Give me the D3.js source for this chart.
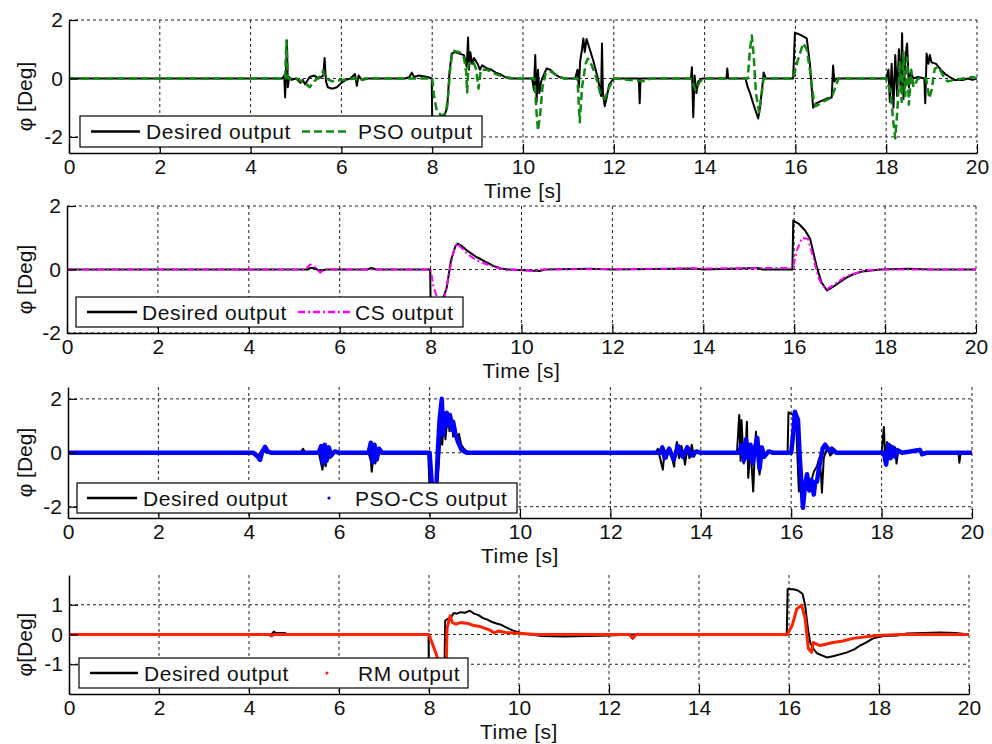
<!DOCTYPE html>
<html>
<head>
<meta charset="utf-8">
<script src="https://cdn.jsdelivr.net/npm/d3@7"></script>
<style>
  body { margin: 0; background: #fff; }
  svg { display: block; font-family: "Liberation Sans", Arial, sans-serif; }
</style>
</head>
<body>
<svg id="chart" width="992" height="744"></svg>
<script>
// shared time axis
var timeTicks = [0, 2, 4, 6, 8, 10, 12, 14, 16, 18, 20];
var yTicksWide = [-2, 0, 2];
var yTicksNarrow = [-1, 0, 1];

// [time s, roll deg] traces
var psoDesired = [[0,0],[4.7,0],[4.74,0.1],[4.76,-0.65],[4.78,0.2],[4.8,1.3],[4.82,-0.3],[4.85,0.05],[4.9,-0.05],[5.0,0],[5.1,-0.15],[5.15,-0.05],[5.2,-0.2],[5.3,0.05],[5.4,0.1],[5.5,0],[5.6,0.1],[5.63,0.7],[5.66,-0.1],[5.7,-0.3],[5.8,-0.35],[5.9,-0.3],[6.0,-0.15],[6.1,-0.05],[6.2,0],[6.3,0.15],[6.34,-0.25],[6.38,0.1],[6.45,-0.05],[6.6,0],[7.4,0],[7.5,0.05],[7.55,0.2],[7.6,0.05],[7.7,0.1],[7.9,0.05],[7.99,0],[8.0,-1.45],[8.1,-1.4],[8.25,-1.35],[8.33,-1.0],[8.38,0.2],[8.43,0.85],[8.5,0.9],[8.6,0.85],[8.7,0.8],[8.76,0.4],[8.79,1.4],[8.81,0.3],[8.84,0.9],[8.88,0.5],[8.92,0.7],[9.0,0.5],[9.05,0.3],[9.1,0.45],[9.2,0.35],[9.3,0.3],[9.4,0.2],[9.5,0.15],[9.6,0.05],[9.7,0],[10.2,0],[10.24,-0.4],[10.27,0.8],[10.3,-0.8],[10.33,0.3],[10.36,-0.5],[10.4,-0.1],[10.45,0.1],[10.52,0.34],[10.6,0.3],[10.7,0.15],[10.8,0.05],[10.9,0],[11.15,0],[11.2,0.3],[11.23,-0.3],[11.26,0.6],[11.3,1.0],[11.33,1.37],[11.36,0.9],[11.4,1.35],[11.45,1.1],[11.55,0.6],[11.65,0],[11.72,-0.6],[11.74,1.2],[11.76,-0.5],[11.8,-0.95],[11.85,-0.6],[11.9,-0.2],[12.0,0],[12.55,0],[12.57,-0.85],[12.59,0],[13.7,0],[13.72,0.38],[13.75,-1.33],[13.78,0.1],[13.82,-0.5],[13.86,-0.1],[13.95,0],[14.48,0],[14.5,0.34],[14.52,0],[14.9,0],[14.95,-0.3],[15.0,-0.5],[15.1,-1.0],[15.18,-1.37],[15.22,-1.0],[15.27,-0.3],[15.3,0.2],[15.35,0],[15.95,0],[15.99,1.57],[16.1,1.5],[16.25,1.37],[16.32,0.5],[16.39,-1.0],[16.45,-0.85],[16.6,-0.75],[16.7,-0.68],[16.8,-0.65],[16.83,0.44],[16.86,-0.1],[16.9,0],[18.0,0],[18.05,0.3],[18.08,-0.8],[18.12,0.5],[18.16,-1.0],[18.2,0.8],[18.24,-0.6],[18.28,1.0],[18.32,-0.4],[18.35,1.55],[18.38,-0.7],[18.42,0.7],[18.46,1.2],[18.5,-0.3],[18.54,0.2],[18.6,0],[18.7,0.05],[18.84,0],[18.86,-0.85],[18.89,0.85],[18.93,0.5],[18.96,0.8],[19.0,0.55],[19.1,0.5],[19.2,0.3],[19.3,0.15],[19.4,0.05],[19.5,-0.05],[19.7,-0.05],[19.8,0],[19.9,-0.05],[20,0]];
var psoOutput = [[0,0],[4.76,0],[4.79,1.3],[4.82,0],[5.0,0],[5.2,-0.15],[5.3,-0.3],[5.4,-0.1],[5.55,0.1],[5.6,0.27],[5.65,0],[5.8,-0.1],[6.0,-0.05],[6.3,0],[6.4,-0.1],[6.5,0],[8.0,0],[8.04,-0.6],[8.1,-1.1],[8.2,-1.27],[8.3,-1.2],[8.35,-0.6],[8.4,0.4],[8.45,0.95],[8.6,0.9],[8.7,0.7],[8.75,0.2],[8.77,-0.48],[8.8,0.5],[8.9,0.6],[8.97,0.3],[9.02,-0.35],[9.07,0.3],[9.2,0.3],[9.4,0.15],[9.6,0.05],[9.8,0],[10.25,0],[10.3,-1.2],[10.33,-1.78],[10.38,-1.2],[10.43,-0.3],[10.5,0.2],[10.6,0.25],[10.75,0.1],[10.9,0],[11.2,0],[11.25,-1.5],[11.3,-0.3],[11.38,0.5],[11.43,0.68],[11.5,0.5],[11.6,0.1],[11.7,-0.5],[11.8,-0.7],[11.9,-0.3],[12.0,0],[12.7,-0.1],[12.8,0],[13.7,0],[13.8,-0.4],[13.9,-0.1],[14.0,0],[14.95,0],[15.0,1.0],[15.04,1.47],[15.08,0.8],[15.13,-0.5],[15.2,-1.16],[15.25,-0.6],[15.3,0],[15.95,0],[16.05,0.6],[16.17,1.2],[16.25,1.0],[16.32,0.3],[16.4,-0.7],[16.45,-0.95],[16.6,-0.8],[16.8,-0.65],[16.88,-0.3],[16.95,0],[18.0,0],[18.1,-0.5],[18.15,-1.4],[18.2,-2.05],[18.25,-1.0],[18.3,0.6],[18.34,-0.8],[18.38,0.9],[18.42,-0.6],[18.46,0.7],[18.5,-0.9],[18.55,0.3],[18.6,-0.3],[18.7,0],[18.88,0],[18.95,-0.68],[19.0,-0.4],[19.07,0.34],[19.15,0.4],[19.25,0.1],[19.35,-0.1],[19.5,-0.05],[19.7,0],[19.9,0.05],[20,0]];

var csDesired = [[0,0],[5.3,0],[5.35,0.05],[5.45,0.05],[5.55,-0.05],[5.7,0],[6.6,0],[6.7,0.05],[6.8,0],[7.99,0],[8.0,-1.0],[8.25,-1.0],[8.35,-0.6],[8.45,0.3],[8.55,0.75],[8.6,0.82],[8.7,0.72],[8.8,0.6],[8.9,0.5],[9.0,0.4],[9.1,0.33],[9.2,0.25],[9.3,0.18],[9.4,0.1],[9.55,0.03],[9.7,0],[10.4,-0.05],[10.5,0],[11.5,0.02],[12,0],[13.8,0.03],[14.0,0],[15.2,0.05],[15.3,0],[15.96,0],[15.98,1.54],[16.1,1.44],[16.24,1.23],[16.35,0.97],[16.5,0.06],[16.6,-0.4],[16.72,-0.66],[16.85,-0.55],[17.0,-0.4],[17.16,-0.25],[17.3,-0.15],[17.5,-0.06],[17.9,0],[18.5,0.02],[19,0],[20,0]];
var csOutput = [[0,0],[5.25,0],[5.35,0.16],[5.45,0.08],[5.57,-0.1],[5.65,-0.02],[5.7,0],[8.0,0],[8.06,-0.5],[8.14,-0.88],[8.2,-0.95],[8.3,-0.9],[8.36,-0.5],[8.45,0.2],[8.52,0.65],[8.58,0.82],[8.7,0.65],[8.8,0.5],[9.0,0.3],[9.2,0.18],[9.4,0.08],[9.55,0.02],[9.7,-0.03],[9.8,0],[10.3,-0.05],[10.4,0],[15.97,0.05],[16.06,0.6],[16.17,1.0],[16.3,0.97],[16.42,0.38],[16.53,-0.25],[16.62,-0.5],[16.72,-0.62],[16.9,-0.45],[17.16,-0.2],[17.5,-0.05],[17.8,0],[20,0]];

var pcsDesired = [[0,0],[4.0,0],[4.2,-0.1],[4.3,0.1],[4.4,0],[5.15,0],[5.2,0.15],[5.25,0],[5.55,0],[5.6,-0.4],[5.63,-0.63],[5.66,-0.2],[5.7,-0.5],[5.75,0.1],[5.8,-0.2],[5.9,0],[6.65,0],[6.7,-0.3],[6.72,-0.7],[6.76,-0.1],[6.8,-0.4],[6.85,0.1],[6.95,0],[7.97,0],[8.0,-1.4],[8.15,-1.4],[8.2,-0.5],[8.25,0.8],[8.28,0.3],[8.32,1.5],[8.35,0.5],[8.4,1.4],[8.44,0.8],[8.48,1.3],[8.52,0.6],[8.56,1.0],[8.6,0.5],[8.65,0.7],[8.7,0.3],[8.76,0.15],[8.85,0.02],[9,0],[13.0,0],[13.05,0.15],[13.1,-0.2],[13.16,-0.63],[13.2,0.1],[13.25,-0.2],[13.3,0.2],[13.35,-0.1],[13.41,-0.52],[13.44,0.1],[13.47,0.4],[13.52,-0.2],[13.57,0.25],[13.62,-0.1],[13.65,-0.44],[13.7,0.15],[13.75,-0.2],[13.8,0.3],[13.85,-0.15],[13.9,0.05],[14.0,0],[14.8,0],[14.85,1.4],[14.88,-0.3],[14.9,1.22],[14.95,-0.4],[15.0,0.4],[15.02,1.15],[15.05,-0.93],[15.1,0.2],[15.16,-1.44],[15.2,0.3],[15.22,0.78],[15.26,-0.3],[15.3,-0.81],[15.35,0.1],[15.4,-0.1],[15.5,0.05],[15.6,0],[15.92,0],[15.94,1.5],[16.05,1.4],[16.1,1.55],[16.13,0.2],[16.17,-1.44],[16.22,-0.9],[16.28,-1.3],[16.35,-0.8],[16.42,-1.2],[16.5,-0.7],[16.57,-0.5],[16.62,-0.2],[16.66,-0.8],[16.68,-1.48],[16.72,-0.2],[16.78,0.1],[16.82,0.22],[16.86,-0.1],[16.95,0.05],[17.05,0],[18.0,0],[18.05,0.96],[18.08,-0.3],[18.12,0.4],[18.16,-0.2],[18.2,0.3],[18.25,-0.1],[18.3,0.2],[18.33,-0.4],[18.37,0.1],[18.45,0],[18.85,0.15],[18.88,-0.1],[18.92,0],[19.7,0],[19.72,-0.37],[19.75,0],[20,0]];
var pcsOutput = [[0,0],[4.1,0],[4.2,-0.15],[4.25,-0.26],[4.3,0.05],[4.36,0.22],[4.42,0.05],[4.5,0],[5.55,0],[5.6,0.25],[5.64,-0.4],[5.68,0.3],[5.72,-0.3],[5.77,0.2],[5.82,-0.1],[5.9,0.05],[6.0,0],[6.65,0],[6.7,0.37],[6.74,-0.35],[6.78,0.3],[6.83,-0.25],[6.88,0.15],[6.95,0],[8.0,0],[8.05,-1.2],[8.15,-1.3],[8.18,0],[8.22,1.2],[8.27,2.0],[8.3,0.67],[8.34,1.3],[8.38,1.48],[8.42,1.0],[8.45,1.4],[8.5,0.85],[8.52,1.15],[8.57,0.7],[8.63,0.4],[8.71,0.1],[8.82,0],[13.1,0],[13.15,0.2],[13.2,-0.2],[13.3,0.15],[13.4,-0.25],[13.5,0.25],[13.6,-0.15],[13.7,0.2],[13.8,-0.1],[13.9,0.05],[14.0,0],[14.85,0],[14.9,0.3],[14.95,-0.3],[15.0,0.5],[15.05,-0.2],[15.1,0.3],[15.15,-0.4],[15.2,0.2],[15.25,0.55],[15.3,-0.6],[15.35,0.2],[15.4,-0.15],[15.5,0.05],[15.6,0],[16.0,0],[16.05,0.8],[16.08,1.52],[16.15,1.22],[16.19,-0.2],[16.23,-1.2],[16.26,-2.04],[16.3,-1.3],[16.35,-0.8],[16.4,-1.4],[16.45,-1.0],[16.5,-1.55],[16.53,-1.1],[16.57,-1.07],[16.62,-0.5],[16.7,0.18],[16.75,0.3],[16.85,0.05],[16.9,0.15],[17.0,0],[18.05,0],[18.1,-0.44],[18.15,0.3],[18.2,-0.2],[18.25,0.2],[18.3,-0.15],[18.35,0.1],[18.45,0],[18.85,0.1],[18.9,-0.05],[19.0,0],[20,0]];

var rmDesired = [[0,0],[4.5,0],[4.55,0.1],[4.6,0.05],[4.8,0.05],[4.85,0],[7.99,0],[8.0,-1.6],[8.34,-1.6],[8.36,0.47],[8.45,0.55],[8.5,0.6],[8.55,0.72],[8.62,0.7],[8.7,0.75],[8.8,0.73],[8.91,0.8],[9.0,0.7],[9.1,0.65],[9.2,0.55],[9.3,0.5],[9.4,0.42],[9.5,0.37],[9.6,0.33],[9.7,0.25],[9.87,0.13],[10.1,0.03],[10.5,-0.05],[11.0,-0.07],[11.5,-0.05],[12.0,-0.03],[12.5,0],[15.95,0],[15.97,1.53],[16.1,1.52],[16.2,1.48],[16.3,1.37],[16.36,0.97],[16.42,0.2],[16.47,-0.27],[16.55,-0.5],[16.62,-0.63],[16.84,-0.77],[17.0,-0.72],[17.29,-0.6],[17.45,-0.5],[17.58,-0.37],[17.7,-0.28],[17.87,-0.13],[18.1,-0.05],[18.4,-0.03],[18.62,0.03],[19.36,0.07],[19.7,0.05],[20,0]];
var rmOutput = [[0,0],[4.45,0],[4.5,-0.05],[4.55,0],[8.0,0],[8.17,-0.7],[8.3,-1.5],[8.38,-1.3],[8.4,0.2],[8.47,0.63],[8.52,0.4],[8.6,0.35],[8.7,0.4],[8.87,0.37],[9.0,0.3],[9.1,0.28],[9.2,0.23],[9.35,0.15],[9.45,0.05],[9.55,0.12],[9.7,0.07],[9.87,0.05],[10.4,0],[12.45,0],[12.53,-0.13],[12.6,0],[15.96,0],[16.07,0.3],[16.17,0.85],[16.28,0.99],[16.36,0.53],[16.43,-0.47],[16.5,-0.6],[16.54,-0.27],[16.69,-0.37],[16.98,-0.27],[17.2,-0.22],[17.42,-0.13],[17.7,-0.08],[17.96,-0.03],[18.47,0],[20,0]];

var outputNames = ["PSO output", "CS output", "PSO-CS output", "RM output"];

var panels = [
  { desired: psoDesired, output: psoOutput, yDomain: [-2.55, 2], yTicks: yTicksWide, ylabel: "φ [Deg]",
    box: [69, 20, 977, 153],
    stroke: { color: "#118811", width: 2.5, dash: "8,4" },
    legend: { x: 80, y: 116, w: 402, h: 31, s1: [91, 140], t1: 146, s2: [302, 348], t2: 358 } },
  { desired: csDesired, output: csOutput, yDomain: [-2, 2], yTicks: yTicksWide, ylabel: "φ [Deg]",
    box: [67, 206, 976, 333],
    stroke: { color: "#ff00ff", width: 2, dash: "7,3,2,3" },
    legend: { x: 76, y: 297, w: 387, h: 30, s1: [87, 137], t1: 142, s2: [298, 350], t2: 355 } },
  { desired: pcsDesired, output: pcsOutput, yDomain: [-2.42, 2.44], yTicks: yTicksWide, ylabel: "φ [Deg]",
    box: [68, 387, 972, 518],
    stroke: { color: "#0000ff", width: 4.5, dash: null, dot: true },
    legend: { x: 77, y: 483, w: 440, h: 30, s1: [87, 137], t1: 143, s2: [329, 329], t2: 355 } },
  { desired: rmDesired, output: rmOutput, yDomain: [-2, 2], yTicks: yTicksNarrow, ylabel: "φ[Deg]",
    box: [69, 575, 969, 694],
    stroke: { color: "#ff2200", width: 3, dash: null, dot: true },
    legend: { x: 79, y: 658, w: 389, h: 30, s1: [90, 138], t1: 144, s2: [327, 327], t2: 358 } }
];

var svg = d3.select("#chart");
var fontSize = "21px";

panels.forEach(function (p, i) {
  var left = p.box[0], top = p.box[1], right = p.box[2], bottom = p.box[3];
  var x = d3.scaleLinear().domain([0, 20]).range([left, right]);
  var y = d3.scaleLinear().domain(p.yDomain).range([bottom, top]);
  var g = svg.append("g");

  // dotted grid
  g.selectAll(".vgrid").data(timeTicks.slice(1)).enter().append("line")
    .attr("x1", d => x(d)).attr("x2", d => x(d))
    .attr("y1", top).attr("y2", bottom)
    .attr("stroke", "#222").attr("stroke-width", 1).attr("stroke-dasharray", "3,3");
  g.selectAll(".hgrid").data(p.yTicks).enter().append("line")
    .attr("x1", left).attr("x2", right)
    .attr("y1", d => y(d)).attr("y2", d => y(d))
    .attr("stroke", "#222").attr("stroke-width", 1).attr("stroke-dasharray", "3,3");

  var clipId = "clip" + i;
  svg.append("clipPath").attr("id", clipId).append("rect")
    .attr("x", left).attr("y", top).attr("width", right - left).attr("height", bottom - top);

  var line = d3.line().x(d => x(d[0])).y(d => y(d[1]));
  var plot = g.append("g").attr("clip-path", "url(#" + clipId + ")");
  plot.append("path").datum(p.desired).attr("d", line)
    .attr("fill", "none").attr("stroke", "#000").attr("stroke-width", 2)
    .attr("stroke-linejoin", "round");
  plot.append("path").datum(p.output).attr("d", line)
    .attr("fill", "none").attr("stroke", p.stroke.color).attr("stroke-width", p.stroke.width)
    .attr("stroke-dasharray", p.stroke.dash).attr("stroke-linejoin", "round");

  // axes: left and bottom only, ticks pointing inward
  var xAxis = g.append("g").attr("transform", "translate(0," + bottom + ")")
    .call(d3.axisBottom(x).tickValues(timeTicks).tickFormat(d3.format("d"))
      .tickSize(-9).tickSizeOuter(0).tickPadding(6));
  var yAxis = g.append("g").attr("transform", "translate(" + left + ",0)")
    .call(d3.axisLeft(y).tickValues(p.yTicks).tickFormat(d3.format("d"))
      .tickSize(-9).tickSizeOuter(0).tickPadding(6));
  [xAxis, yAxis].forEach(function (a) {
    a.select(".domain").attr("stroke", "#000").attr("stroke-width", 1.5);
    a.selectAll(".tick line").attr("stroke", "#000").attr("stroke-width", 1.2);
    a.selectAll(".tick text").attr("fill", "#111").style("font-size", fontSize)
      .style("font-family", "'Liberation Sans', Arial, sans-serif");
  });
  // minus sign drawn as a plain hyphen
  yAxis.selectAll(".tick text").text(d => String(d));

  g.append("text").attr("x", (left + right) / 2).attr("y", bottom + 45)
    .attr("text-anchor", "middle").attr("fill", "#111").style("font-size", fontSize)
    .style("letter-spacing", "0.5px").text("Time [s]");
  g.append("text")
    .attr("transform", "translate(32," + ((top + bottom) / 2 + 10) + ") rotate(-90)")
    .attr("text-anchor", "middle").attr("fill", "#111").style("font-size", fontSize)
    .text(p.ylabel);

  // legend
  var L = p.legend, cy = L.y + L.h / 2;
  g.append("rect").attr("x", L.x).attr("y", L.y).attr("width", L.w).attr("height", L.h)
    .attr("fill", "#fff").attr("stroke", "#000").attr("stroke-width", 1.2);
  g.append("line").attr("x1", L.s1[0]).attr("x2", L.s1[1]).attr("y1", cy).attr("y2", cy)
    .attr("stroke", "#000").attr("stroke-width", 2.5);
  g.append("text").attr("x", L.t1).attr("y", cy + 7.5).attr("fill", "#111")
    .style("font-size", fontSize).style("letter-spacing", "0.6px").text("Desired output");
  if (p.stroke.dot) {
    g.append("circle").attr("cx", L.s2[0]).attr("cy", cy).attr("r", 1.6).attr("fill", p.stroke.color);
  } else {
    g.append("line").attr("x1", L.s2[0]).attr("x2", L.s2[1]).attr("y1", cy).attr("y2", cy)
      .attr("stroke", p.stroke.color).attr("stroke-width", 2.5).attr("stroke-dasharray", p.stroke.dash);
  }
  g.append("text").attr("x", L.t2).attr("y", cy + 7.5).attr("fill", "#111")
    .style("font-size", fontSize).style("letter-spacing", "0.6px").text(outputNames[i]);
});
</script>
</body>
</html>
